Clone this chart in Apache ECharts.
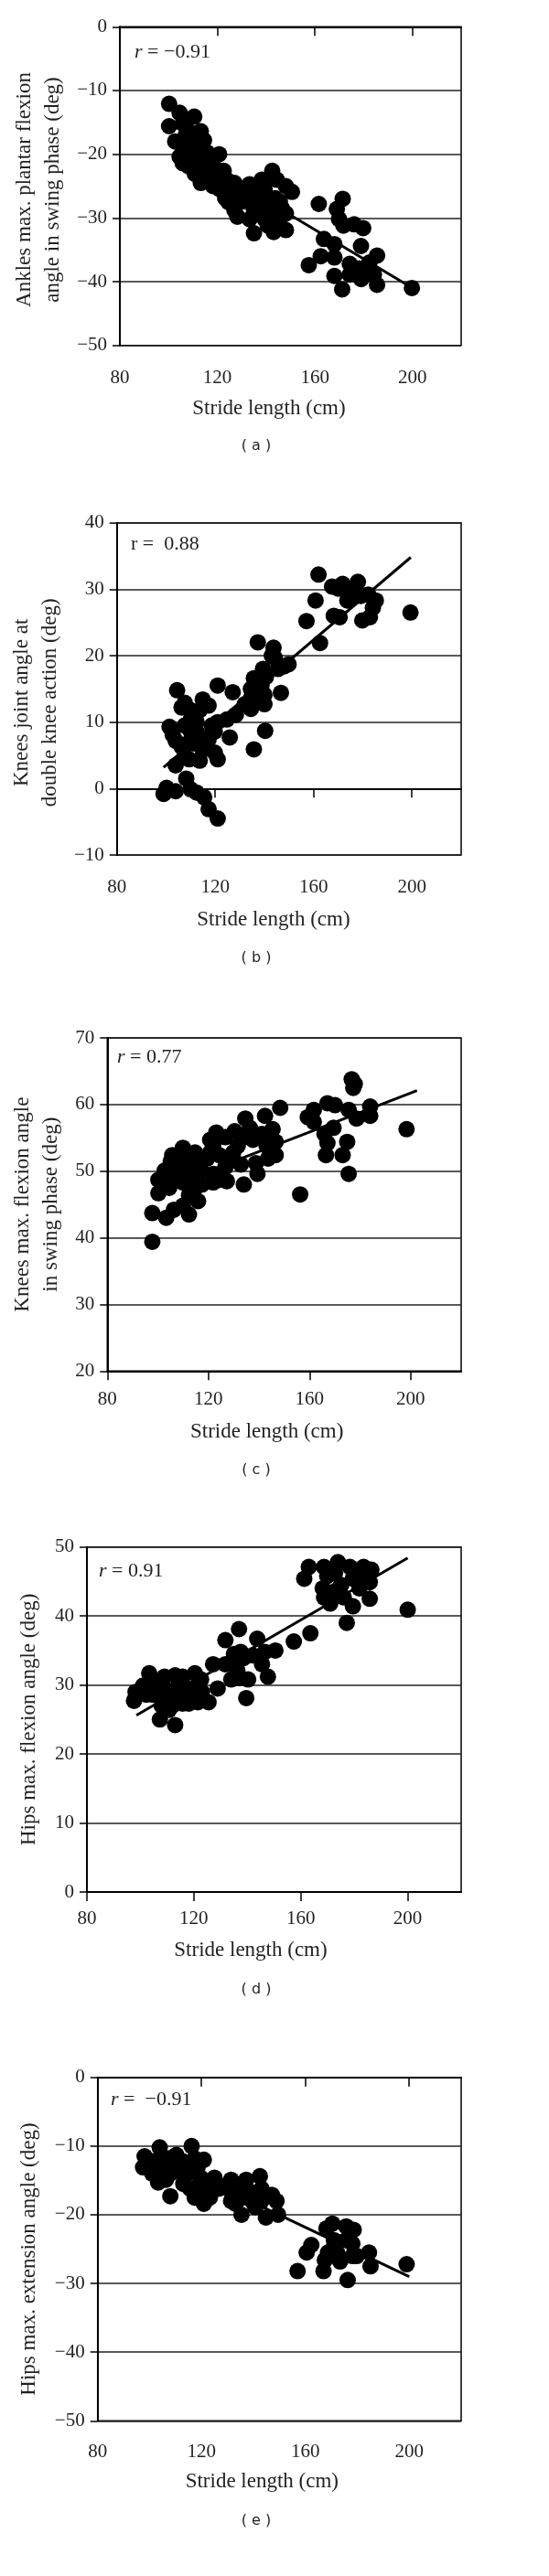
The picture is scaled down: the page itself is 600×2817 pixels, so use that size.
<!DOCTYPE html>
<html><head><meta charset="utf-8">
<script src="https://cdn.jsdelivr.net/npm/echarts@6/dist/echarts.min.js"></script>
<style>html,body{margin:0;padding:0;background:#fff}#c{width:600px;height:2817px}</style>
</head><body><div id="c"></div>
<script>
// ---- Data ----
const xTicks = [80, 120, 160, 200];

// (a) Ankles max. plantar flexion angle in swing phase
const aX = [100.2,104.5,110.5,100.2,105.8,113.2,102.7,114.5,105.8,120.7,104.5,105.8,108.3,110.8,115.7,113.2,118.2,122.6,113.2,118.2,123.8,115.7,125.7,127.0,128.2,133.2,130.7,135.0,135.0,138.2,139.4,142.5,144.4,148.1,150.6,139.4,140.7,143.1,145.6,148.1,143.8,136.9,132.6,138.2,140.7,148.1,145.6,161.6,171.4,169.0,169.9,171.7,176.1,179.8,178.9,163.7,168.0,162.4,168.0,157.5,185.5,182.4,174.3,178.0,168.0,179.0,184.2,171.2,185.5,199.8,174.3,181.7,108.0,111.0,116.5,119.5,107.0,112.0,121.0,124.5,129.5,137.0,141.5,146.5,
  108.3,112.0,115.7,118.2,120.7,110.8,124.5,127.0,129.4,108.3,112.0,117.0,123.2,136.9,140.7,133.2,143.1];
const aY = [-12.1,-13.5,-14.1,-15.6,-15.2,-16.4,-18.0,-17.8,-19.2,-20.0,-20.4,-21.4,-21.9,-20.7,-19.7,-21.6,-21.6,-22.6,-24.5,-25.0,-24.0,-23.5,-26.4,-28.8,-29.8,-24.7,-27.4,-28.8,-32.4,-24.0,-25.5,-22.6,-24.0,-25.0,-25.9,-30.2,-31.2,-28.3,-30.2,-31.9,-26.9,-26.9,-26.4,-29.3,-29.3,-29.3,-27.4,-27.8,-27.0,-28.6,-30.2,-31.2,-31.0,-31.6,-34.4,-33.3,-34.1,-36.0,-36.2,-37.4,-35.9,-37.0,-37.2,-37.9,-39.1,-39.6,-38.9,-41.2,-40.5,-41.0,-38.9,-38.4,-18.5,-23.0,-22.0,-23.5,-17.0,-19.0,-25.5,-27.5,-26.0,-28.0,-27.0,-28.5,
  -18.8,-19.7,-21.6,-23.1,-24.0,-23.1,-25.5,-24.5,-26.9,-16.4,-18.3,-20.7,-26.9,-25.5,-27.4,-30.2,-32.2];
const aFitX = [100, 200];
const aFitY = [-18.1, -41.0];

// (b) Knees joint angle at double knee action
const bX = [162.0,160.8,157.1,162.6,167.5,170.0,171.8,174.3,173.7,178.0,179.2,168.2,170.6,179.8,182.9,184.1,185.3,182.2,199.4,176.1,137.3,143.7,144.3,148.0,149.8,145.5,139.4,135.7,138.8,146.7,140.0,134.5,132.0,140.0,134.5,140.3,135.7,127.1,128.4,124.7,121.0,118.6,125.9,121.0,117.3,114.9,119.8,121.0,113.7,114.9,117.3,112.4,109.9,107.6,106.3,104.5,101.4,102.7,103.9,106.3,107.6,109.4,107.6,110.0,111.2,103.9,108.2,99.0,103.9,110.0,112.4,115.5,117.3,121.0,100.2,
  110.0,112.4,113.7,108.8,114.9,119.8,134.5,140.6,143.0];
const bY = [32.2,28.3,25.2,21.9,30.4,30.1,30.8,29.4,28.3,31.1,29.0,26.0,25.8,25.3,25.8,27.2,28.3,29.2,26.5,28.8,22.0,21.2,19.6,18.4,18.7,18.0,18.0,16.6,15.5,14.4,14.1,13.6,12.7,12.7,12.0,8.7,5.9,14.5,11.1,10.4,10.0,9.5,7.7,15.5,12.5,13.4,5.4,4.4,4.2,7.7,7.4,10.0,11.8,12.9,12.2,14.8,9.3,8.1,7.2,6.3,4.9,4.4,9.5,8.6,6.8,3.5,1.5,-0.8,-0.4,-0.1,-0.6,-1.3,-3.1,-4.5,0.1,
  10.4,8.6,11.8,6.8,5.8,8.6,15.0,16.8,20.0];
const bFitX = [99, 199.5];
const bFitY = [3.2, 34.8];

// (c) Knees max. flexion angle in swing phase
const cX = [97.8,97.8,103.3,100.2,100.2,102.7,105.1,105.7,109.9,107.5,109.9,106.3,112.3,109.9,112.3,115.9,114.7,113.5,117.1,119.5,120.7,123.1,126.7,121.9,124.3,127.3,126.7,130.4,129.8,132.8,134.6,136.4,134.0,134.0,139.4,138.8,142.4,145.4,143.0,146.6,146.6,143.6,148.4,156.3,159.3,161.7,161.7,167.1,170.1,165.9,169.5,167.1,166.5,173.1,174.9,175.5,176.7,177.9,177.3,175.5,178.6,184.0,184.0,198.4,107.0,113.5,115.5,117.5,109.5,104.5,
  109.9,112.3,115.9,117.1,120.7,114.7,105.1,121.9,129.2,124.3,131.6,137.6,141.2,121.9];
const cY = [39.4,43.7,43.0,46.7,48.7,50.1,51.5,52.4,53.5,49.2,48.3,44.2,43.5,44.8,46.4,45.5,52.8,50.6,50.1,51.9,54.7,55.8,55.1,49.6,48.7,48.5,50.6,56.0,52.8,51.0,57.9,56.5,55.1,48.0,49.6,51.2,58.3,56.3,53.8,54.4,52.4,51.9,59.5,46.5,58.1,59.2,57.4,60.2,59.9,55.6,56.5,54.2,52.4,52.4,54.4,49.6,63.8,63.1,62.5,59.2,57.9,59.7,58.3,56.3,51.2,48.3,52.0,48.0,52.0,47.5,
  50.6,49.2,48.3,51.5,52.8,47.4,49.2,48.3,51.9,52.4,53.8,54.7,55.6,53.8];
const cFitX = [98, 202.5];
const cFitY = [46.8, 62.1];

// (d) Hips max. flexion angle
const dX = [97.6,98.2,101.0,103.3,105.0,107.3,113.0,110.7,106.7,109.0,113.0,115.8,120.4,115.8,118.1,121.5,125.5,128.9,127.2,122.7,113.6,118.1,131.8,136.9,134.0,136.3,131.8,139.6,140.3,142.0,143.7,146.6,147.7,150.5,138.6,157.4,163.6,161.3,163.0,168.7,169.9,168.2,168.7,171.0,173.9,176.1,177.2,179.5,178.4,179.5,183.5,186.4,185.8,185.8,200.0,172.8,110.0,116.0,123.0,112.0,108.0,135.0,137.0,
  109.0,111.3,115.8,120.4,122.7,104.5,102.2,137.5,135.2,145.5,172.8,175.1,181.9,181.9];
const dY = [27.7,29.0,29.9,31.7,30.3,25.0,24.2,26.4,28.6,29.5,31.4,31.2,31.7,27.3,27.3,27.5,27.5,29.5,33.0,30.8,29.5,29.5,36.5,38.1,30.8,32.1,33.0,28.1,30.8,34.3,36.7,34.8,31.2,35.0,33.9,36.3,37.5,45.4,47.1,47.1,45.8,44.0,42.7,41.8,47.8,42.7,39.0,41.4,47.1,45.4,47.1,46.7,44.9,42.5,40.9,43.6,28.0,29.0,29.0,27.0,27.0,34.5,31.0,
  31.2,28.6,29.5,29.5,28.6,28.6,28.6,34.8,34.3,33.0,46.2,44.5,44.0,46.2];
const dFitX = [98.5, 200];
const dFitY = [25.6, 48.4];

// (e) Hips max. extension angle
const eX = [98.1,97.5,103.9,102.2,101.0,103.3,102.8,107.4,110.3,112.7,108.0,106.3,109.8,116.2,117.4,120.9,114.4,115.6,117.4,119.7,120.9,123.2,125.0,126.7,131.4,131.4,134.9,137.2,133.1,135.4,136.0,139.5,142.5,143.1,144.8,147.1,148.9,149.5,140.7,157.0,160.5,162.3,167.0,167.5,168.7,168.1,170.4,171.0,172.2,173.4,175.7,178.6,178.1,176.3,179.8,184.5,185.1,199.0,105.0,113.0,119.0,128.0,138.0,121.0,117.0,
  105.7,108.0,112.7,118.5,123.2,129.0,133.7,138.4,143.1,118.5,131.4,171.0,175.7,178.1];
const eY = [-11.5,-13.1,-10.2,-12.2,-14.0,-15.3,-13.1,-11.8,-11.3,-12.2,-17.3,-14.9,-13.5,-10.0,-11.8,-12.0,-14.0,-16.2,-17.5,-14.6,-18.4,-17.5,-14.6,-16.2,-14.9,-16.6,-16.2,-14.9,-18.4,-20.0,-17.5,-18.0,-14.4,-16.2,-20.4,-17.1,-18.0,-20.0,-18.9,-28.2,-25.5,-24.4,-28.2,-26.6,-25.5,-22.0,-21.3,-23.7,-25.5,-26.8,-21.7,-22.2,-24.2,-29.5,-26.0,-25.5,-27.5,-27.2,-13.0,-15.5,-16.5,-16.0,-16.5,-15.5,-13.0,
  -12.2,-14.0,-14.0,-15.8,-15.8,-15.8,-15.8,-16.6,-18.0,-13.1,-18.0,-24.6,-23.7,-26.0];
const eFitX = [98, 200];
const eFitY = [-10.7, -29.0];

const panels = [
  {x:aX, y:aY, fx:aFitX, fy:aFitY, yMin:-50, yMax:0, name:'Ankles max. plantar flexion\nangle in swing phase (deg)', r:'{i|r} = −0.91', cap:'( a )',
   grid:{left:131, top:29.3, width:373, height:348.4}, yGap:53, yPad:[0,8,0,0], xLabM:25, xGap:58, xPad:[0,47,0,0], rPos:[147,58], capY:488},
  {x:bX, y:bY, fx:bFitX, fy:bFitY, yMin:-10, yMax:40, name:'Knees joint angle at\ndouble knee action (deg)', r:'r =  0.88', cap:'( b )',
   grid:{left:125, top:571.7, width:379, height:363.3}, yGap:47, yPad:[0,30,0,0], xLabM:25, xGap:59, xPad:[0,34,0,0], rPos:[143,596], capY:1048},
  {x:cX, y:cY, fx:cFitX, fy:cFitY, yMin:20, yMax:70, name:'Knees max. flexion angle\nin swing phase (deg)', r:'{i|r} = 0.77', cap:'( c )',
   grid:{left:117.3, top:1135, width:386.7, height:364.3}, yGap:38, yPad:[0,0,0,0], xLabM:21, xGap:55, xPad:[0,38,0,0], rPos:[128,1157], capY:1608},
  {x:dX, y:dY, fx:dFitX, fy:dFitY, yMin:0, yMax:50, name:'Hips max. flexion angle (deg)', r:'{i|r} = 0.91', cap:'( d )',
   grid:{left:95, top:1691.7, width:409, height:377.3}, yGap:48, yPad:[0,0,0,0], xLabM:19, xGap:52, xPad:[0,51,0,0], rPos:[108,1719], capY:2176},
  {x:eX, y:eY, fx:eFitX, fy:eFitY, yMin:-50, yMax:0, name:'Hips max. extension angle (deg)', r:'{i|r} =  −0.91', cap:'( e )',
   grid:{left:106.7, top:2271.7, width:397.3, height:375.6}, yGap:59, yPad:[0,22,0,0], xLabM:24, xGap:55, xPad:[0,38,0,0], rPos:[121,2297], capY:2757}
];

const SERIF = '"Liberation Serif", "Times New Roman", serif';
const INK = '#231f20';
const fmtNum = v => (v < 0 ? '−' + Math.abs(v) : String(v));

const option = {
  animation: false,
  backgroundColor: '#fff',
  grid: [], xAxis: [], yAxis: [], series: [], graphic: []
};

panels.forEach((p, i) => {
  option.grid.push(Object.assign({show: true, borderColor: '#000', borderWidth: 1.5, backgroundColor: 'transparent'}, p.grid));
  option.xAxis.push({
    type: 'value', gridIndex: i, min: 80, max: 220, interval: 40,
    name: 'Stride length (cm)', nameLocation: 'middle', nameGap: p.xGap,
    nameTextStyle: {fontFamily: SERIF, fontSize: 23, color: INK, padding: p.xPad},
    axisLine: {show: true, lineStyle: {color: '#000', width: 2}},
    axisTick: {show: true, length: 10, lineStyle: {color: '#000', width: 1.5}, customValues: xTicks},
    axisLabel: {fontFamily: SERIF, fontSize: 21, color: INK, margin: p.xLabM, customValues: xTicks},
    splitLine: {show: false}
  });
  option.yAxis.push({
    type: 'value', gridIndex: i, min: p.yMin, max: p.yMax, interval: 10,
    name: p.name, nameLocation: 'middle', nameRotate: 90, nameGap: p.yGap,
    nameTextStyle: {fontFamily: SERIF, fontSize: 23, color: INK, lineHeight: 31, padding: p.yPad},
    axisLine: {show: true, lineStyle: {color: '#000', width: 2}},
    axisTick: {show: true, length: 8, lineStyle: {color: '#000', width: 1.5}},
    axisLabel: {fontFamily: SERIF, fontSize: 21, color: INK, margin: 14, formatter: fmtNum},
    splitLine: {show: true, lineStyle: {color: '#222', width: 1.5}}
  });
  option.series.push({
    type: 'line', xAxisIndex: i, yAxisIndex: i, z: 1,
    data: p.fx.map((v, k) => [v, p.fy[k]]),
    symbol: 'none', lineStyle: {color: '#000', width: 3}, silent: true
  });
  option.series.push({
    type: 'scatter', xAxisIndex: i, yAxisIndex: i, z: 2,
    data: p.x.map((v, k) => [v, p.y[k]]),
    symbol: 'circle', symbolSize: 18, itemStyle: {color: '#000', opacity: 1}
  });
  option.graphic.push({
    type: 'text', left: p.rPos[0], top: p.rPos[1] - 12,
    style: {text: p.r, fontFamily: SERIF, fontSize: 22, fill: INK,
      rich: {i: {fontStyle: 'italic', fontFamily: SERIF, fontSize: 22, fill: INK}}}
  });
  option.graphic.push({
    type: 'text', x: 280, y: p.capY,
    style: {text: p.cap, fontFamily: '"DejaVu Sans", sans-serif', fontSize: 16, fill: INK, align: 'center', verticalAlign: 'middle'}
  });
});

const chart = echarts.init(document.getElementById('c'), null, {renderer: 'canvas', width: 600, height: 2817});
chart.setOption(option);
</script></body></html>
